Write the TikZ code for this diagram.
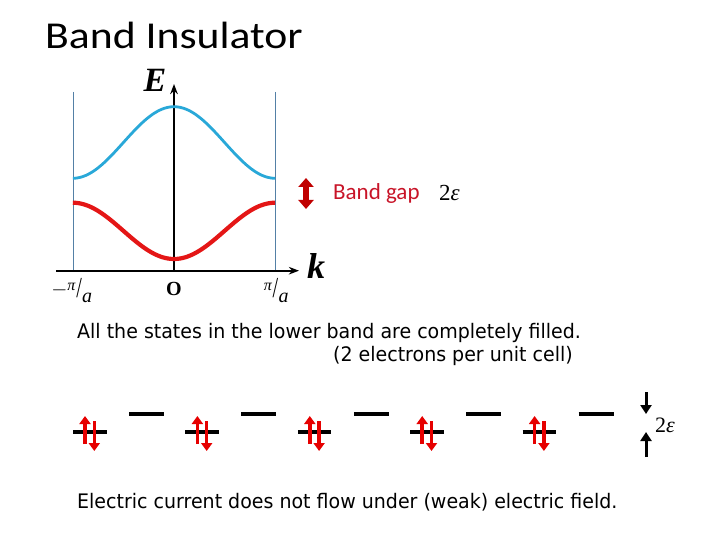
\documentclass[tikz,border=0pt]{standalone}
\usepackage{fontspec}
\newfontfamily\calfont{Carlito}
\newfontfamily\titlefont[FakeStretch=1.15]{Carlito}
\newfontfamily\comicfont[FakeStretch=0.95]{DejaVu Sans}
\newfontfamily\timesfont{Liberation Serif}
\usetikzlibrary{arrows.meta}

\definecolor{bandblue}{RGB}{41,168,216}
\definecolor{bandred}{RGB}{228,22,22}
\definecolor{zonegray}{RGB}{84,128,166}
\definecolor{gapred}{RGB}{192,0,0}
\definecolor{gaptext}{RGB}{200,20,40}
\definecolor{spinred}{RGB}{230,0,0}

\newcommand{\slfrac}[2]{\raisebox{0.55ex}{\fontsize{16}{18}\selectfont #1}\hspace{0.02em}\raisebox{-0.3ex}{\scalebox{1}[1.45]{/}}\hspace{0.02em}\raisebox{-0.85ex}{#2}}

\tikzset{
  level/.style={line width=3.5pt},
  spin/.style={spinred, line width=3.5pt, -{Triangle[width=11pt,length=8pt]}},
  gaparrow/.style={line width=3pt, -{Triangle[width=11pt,length=9pt]}},
  comictext/.style={font=\comicfont\fontsize{20}{24}\selectfont, anchor=base west, inner sep=0}
}

\begin{document}
\begin{tikzpicture}[>=Stealth, x=1pt, y=-1pt]
  \useasboundingbox (0,0) rectangle (720,540);

  % ===== title =====
  \node[font=\titlefont\fontsize{38}{44}\selectfont, anchor=base west, inner sep=0] (title) at (45,49) {Band Insulator};

  % ===== band structure =====
  \def\xO{174}
  \def\xZ{101.2}
  \def\yK{270.7}
  \draw[zonegray, thin] (\xO-\xZ, 92) -- (\xO-\xZ, \yK);
  \draw[zonegray, thin] (\xO+\xZ, 92) -- (\xO+\xZ, \yK);
  \draw[->, line width=1.6pt] (56,\yK) -- (299,\yK);
  \draw[->, line width=1.6pt] (\xO,\yK) -- (\xO,84);

  \draw[bandblue, line width=2.8pt, domain=-1:1, samples=80, smooth]
      plot ({\xO+\xZ*\x}, {142.5-35.8*cos(180*\x)});
  \draw[bandred, line width=4.2pt, domain=-1:1, samples=80, smooth]
      plot ({\xO+\xZ*\x}, {230.85+28.15*cos(180*\x)});

  \node[font=\timesfont\fontsize{34}{36}\selectfont] (E) at (155,80) {\textbf{\textit{E}}};
  \node[font=\timesfont\fontsize{36}{38}\selectfont] (k) at (316,266) {\textbf{\textit{k}}};
  \node[font=\timesfont\fontsize{20}{22}\selectfont] (O) at (\xO,289) {\textbf{O}};
  \node[font=\timesfont\fontsize{20}{22}\selectfont, inner sep=0] (kmin) at (\xO-\xZ-1,291) {$-$\slfrac{\textit{π}}{\textit{a}}};
  \node[font=\timesfont\fontsize{20}{22}\selectfont, inner sep=0] (kmax) at (\xO+\xZ+1,291) {\slfrac{\textit{π}}{\textit{a}}};

  % band gap
  \draw[gapred, line width=6pt, {Triangle[width=15pt,length=9pt]}-{Triangle[width=15pt,length=9pt]}]
      (306,178) -- (306,209);
  \node[font=\calfont\fontsize{23}{26}\selectfont, text=gaptext, anchor=base west, inner sep=0] (gap) at (333,200) {Band gap};
  \node[font=\timesfont\fontsize{23}{26}\selectfont, anchor=base west, inner sep=0] (gapval) at (439,201) {2\textit{ε}};

  % ===== text =====
  \node[comictext] (filled) at (77,338) {All the states in the lower band are completely filled.};
  \node[comictext, anchor=base east] (percell) at (573,361) {(2 electrons per unit cell)};
  \node[comictext] (nocurrent) at (77,508) {Electric current does not flow under (weak) electric field.};

  % ===== electrons in the lattice =====
  \foreach \i in {0,...,4} {
    \pgfmathsetmacro{\xP}{89.8+112.4*\i}
    \draw[level] (\xP-16.8,432) -- (\xP+16.8,432);
    \draw[level] (\xP+39.2,414) -- (\xP+74.2,414);
    \draw[spin] (\xP-4.8,444) -- (\xP-4.8,416);
    \draw[spin] (\xP+4.5,421) -- (\xP+4.5,451);
  }

  % gap between the two levels
  \draw[gaparrow] (646,392) -- (646,414);
  \draw[gaparrow] (646,457) -- (646,432);
  \node[font=\timesfont\fontsize{22}{24}\selectfont, anchor=west, inner sep=0] (eps) at (655,425) {2\textit{ε}};
\end{tikzpicture}
\end{document}
